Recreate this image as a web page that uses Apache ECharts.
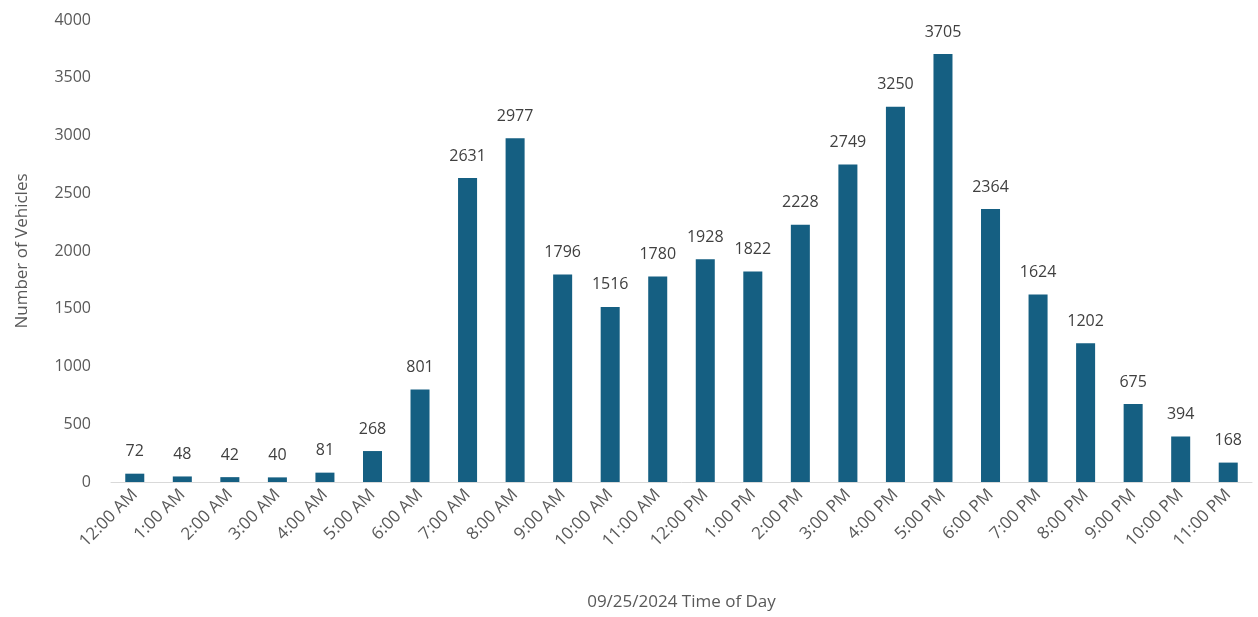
<!DOCTYPE html>
<html><head><meta charset="utf-8">
<script src="https://cdn.jsdelivr.net/npm/echarts@6/dist/echarts.min.js"></script>
<style>html,body{margin:0;padding:0;background:#fff}#c{width:1258px;height:617px}</style>
</head><body><div id="c"></div>
<script>
const categories = ["12:00 AM","1:00 AM","2:00 AM","3:00 AM","4:00 AM","5:00 AM","6:00 AM","7:00 AM","8:00 AM","9:00 AM","10:00 AM","11:00 AM","12:00 PM","1:00 PM","2:00 PM","3:00 PM","4:00 PM","5:00 PM","6:00 PM","7:00 PM","8:00 PM","9:00 PM","10:00 PM","11:00 PM"];
const vehicles = [72,48,42,40,81,268,801,2631,2977,1796,1516,1780,1928,1822,2228,2749,3250,3705,2364,1624,1202,675,394,168];
const yTitle = "Number of Vehicles";
const xTitle = "09/25/2024 Time of Day";
const font = "'Open Sans', 'Liberation Sans', sans-serif";
const chart = echarts.init(document.getElementById('c'));
chart.setOption({
  animation:false,
  grid:{left:111,right:6,top:20,bottom:135,containLabel:false},
  xAxis:{type:'category',data:categories,
    name:xTitle,nameLocation:'middle',nameGap:112,
    nameTextStyle:{color:'#595959',fontSize:17,fontFamily:font},
    axisLine:{lineStyle:{color:'#d9d9d9',width:1}},axisTick:{show:false},
    axisLabel:{rotate:45,color:'#595959',fontSize:17,fontFamily:font,interval:0,margin:10}},
  yAxis:{type:'value',min:0,max:4000,interval:500,
    name:yTitle,nameLocation:'middle',nameGap:80,
    nameTextStyle:{color:'#595959',fontSize:17,fontFamily:font},
    splitLine:{show:false},axisLine:{show:false},axisTick:{show:false},
    axisLabel:{color:'#595959',fontSize:16,fontFamily:font,margin:20,formatter:v=>String(v)}},
  series:[{type:'bar',data:vehicles,barWidth:'40%',
    itemStyle:{color:'#155f82'},
    label:{show:true,position:'top',distance:14,color:'#404040',fontSize:16,fontFamily:font}}]
});
</script></body></html>
